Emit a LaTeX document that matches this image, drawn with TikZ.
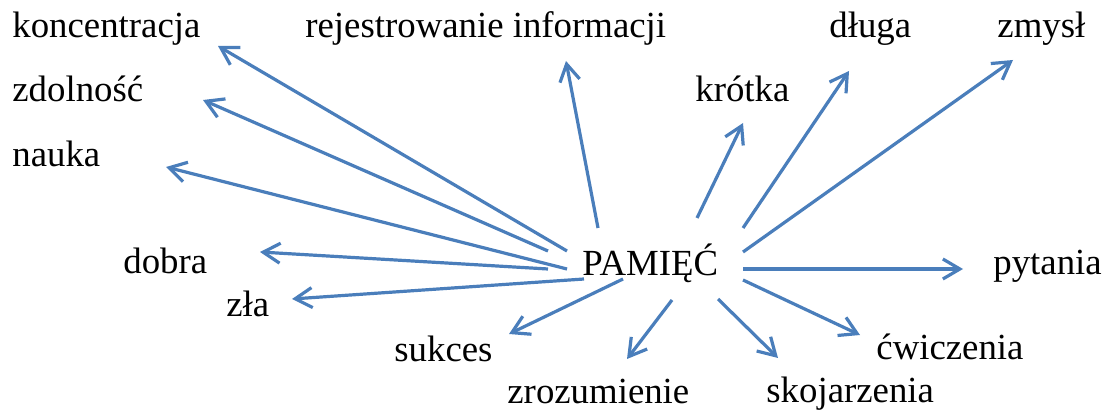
\documentclass[tikz,border=0pt]{standalone}
\usepackage{fontspec}
\setmainfont{Liberation Serif}
\usetikzlibrary{arrows.meta}
\definecolor{arrowblue}{HTML}{4A7EBB}
\begin{document}
\begin{tikzpicture}[x=0.5pt,y=-0.5pt,
  word/.style={anchor=base west, inner sep=0pt, font=\fontsize{18.4pt}{22pt}\selectfont},
  link/.style={draw=arrowblue, line width=1.6pt, -{Straight Barb[length=8.5pt,width=10pt]}}]
\useasboundingbox (0,0) rectangle (1106,410);
% words
\node[word] (konc) at (12,38) {koncentracja};
\node[word] (rej) at (305,38) {rejestrowanie informacji};
\node[word] (dluga) at (829,38) {długa};
\node[word] (zmysl) at (997,38) {zmysł};
\node[word] (zdol) at (12,102) {zdolność};
\node[word] (krot) at (695,102) {krótka};
\node[word] (nauka) at (12,167) {nauka};
\node[word] (dobra) at (123,274) {dobra};
\node[word] (zla) at (226,317) {zła};
\node[word] (pam) at (582,276) {PAMIĘĆ};
\node[word] (pyt) at (993,275) {pytania};
\node[word] (suk) at (394,362) {sukces};
\node[word] (cwi) at (876,360) {ćwiczenia};
\node[word] (zroz) at (507,403) {zrozumienie};
\node[word] (skoj) at (766,402) {skojarzenia};
% arrow start points (around PAMIĘĆ)
\coordinate (s-konc) at (567,251);
\coordinate (s-zdol) at (548,251);
\coordinate (s-nauka) at (567,269);
\coordinate (s-dobra) at (548,269);
\coordinate (s-zla) at (584,279);
\coordinate (s-rej) at (598,228);
\coordinate (s-krot) at (697,218);
\coordinate (s-dluga) at (743,228);
\coordinate (s-zmysl) at (743,252);
\coordinate (s-pyt) at (743,269);
\coordinate (s-cwi) at (743,280);
\coordinate (s-skoj) at (718,299);
\coordinate (s-zroz) at (672,300);
\coordinate (s-suk) at (623,279);
% arrow tips
\coordinate (e-konc) at (218,46);
\coordinate (e-zdol) at (203,100);
\coordinate (e-nauka) at (166,167);
\coordinate (e-dobra) at (260,252);
\coordinate (e-zla) at (292,299);
\coordinate (e-rej) at (566,61);
\coordinate (e-krot) at (743,123);
\coordinate (e-dluga) at (849,71);
\coordinate (e-zmysl) at (1013,60);
\coordinate (e-pyt) at (963,269);
\coordinate (e-cwi) at (860,335);
\coordinate (e-skoj) at (778,358);
\coordinate (e-zroz) at (627,359);
\coordinate (e-suk) at (509,334);
% connectors
\foreach \n in {konc,zdol,nauka,dobra,zla,rej,krot,dluga,zmysl,pyt,cwi,skoj,zroz,suk}
  \draw[link] (s-\n) -- (e-\n);
\end{tikzpicture}
\end{document}
